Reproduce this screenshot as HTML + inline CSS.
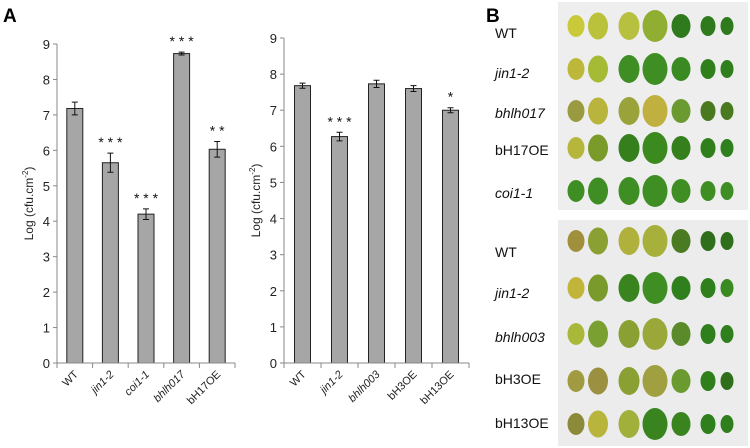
<!DOCTYPE html>
<html><head><meta charset="utf-8"><style>
body{margin:0;width:750px;height:448px;background:#fff;overflow:hidden;font-family:"Liberation Sans",sans-serif}
svg{position:absolute;left:0;top:0}
</style></head><body>
<svg id="s" width="750" height="448">
<text x="3" y="22" font-size="19" font-weight="bold">A</text>
<text x="486" y="22" font-size="19" font-weight="bold">B</text>
<rect x="558" y="2" width="190" height="208" fill="#eeeeee"/>
<rect x="558" y="220" width="190" height="226" fill="#ececec"/>
<g font-size="14" fill="#111">
<text x="495" y="38">WT</text>
<text x="495" y="78" font-style="italic">jin1-2</text>
<text x="495" y="118" font-style="italic">bhlh017</text>
<text x="495" y="155">bH17OE</text>
<text x="495" y="198" font-style="italic">coi1-1</text>
<text x="495" y="257">WT</text>
<text x="495" y="298" font-style="italic">jin1-2</text>
<text x="495" y="342" font-style="italic">bhlh003</text>
<text x="495" y="384">bH3OE</text>
<text x="495" y="428">bH13OE</text>
</g>
</svg>
<script>
const catsA=["WT","jin1-2","coi1-1","bhlh017","bH17OE"];
const valsA=[7.18,5.65,4.2,8.73,6.03];
const errA=[0.18,0.27,0.15,0.04,0.22];
const starsA=["","* * *","* * *","* * *","* *"];
const italA=[false,true,true,true,false];
const catsB=["WT","jin1-2","bhlh003","bH3OE","bH13OE"];
const valsB=[7.68,6.27,7.73,7.6,7.0];
const errB=[0.07,0.12,0.1,0.08,0.07];
const starsB=["","* * *","","","*"];
const italB=[false,true,true,false,false];
const ticks=[0,1,2,3,4,5,6,7,8,9];
const leafRows=[25,68,110,147,190,240,287,333,380,423];
const leafCols=[576,598,629,655,681,708,727];
const leafColors=[
["#c9c93a","#b9c23a","#b8c040","#8fae32","#2f7a1c","#2f7a1c","#2f7a1c"],
["#bdb83a","#a6bb35","#3f8e24","#3f8e24","#3a8a22","#2f7f1c","#2f7f1c"],
["#9a9a40","#b8b43c","#9aa33a","#c0b040","#6a9a30","#4a7a20","#4a7a20"],
["#b6b63c","#7a9a2a","#357f1d","#3a8a20","#357f1d","#2f7f1c","#2f7f1c"],
["#3f8e24","#3f8e24","#3f8e24","#3f8e24","#3f8e24","#3f8e24","#3f8e24"],
["#a0903c","#8aa032","#b0b03c","#a8b03c","#4a7a22","#2f6f1c","#2f6f1c"],
["#c0b43a","#7a9a2c","#3a8420","#3f8e24","#2f7f1c","#2f7f1c","#3a8a22"],
["#aab83a","#7aa032","#8aa032","#9aa83a","#5a8a2a","#2f7f1c","#2f7f1c"],
["#a09a40","#9a9040","#8aa032","#a0a040","#6a9a30","#2f7f1c","#2f6f1c"],
["#8a8a3a","#b8b43c","#a0b03a","#3a8420","#3a8420","#2f7f1c","#2f7f1c"]];
const leafW=[17,20,21,25,19,15,13];
const leafH=[22,27,28,32,24,20,18];
const NS="http://www.w3.org/2000/svg",s=document.getElementById('s');
function mk(t,a,p){const e=document.createElementNS(NS,t);for(const k in a)e.setAttribute(k,a[k]);(p||s).appendChild(e);return e;}
function chart(cats,vals,errs,stars,ital,x0,x1,y0,y9,nm){
  const g=mk('g',{});
  
  
  const n=cats.length,bw=(x1-x0)/n;
  const X=i=>x0+bw*(i+0.5), Y=v=>y0-(y0-y9)*v/9;
  ticks.forEach(t=>{
    const l=mk('line',{x1:x0-4,x2:x0,y1:Y(t),y2:Y(t),stroke:'#888'},g);
    
    const tx=mk('text',{x:x0-7,y:Y(t)+5,'font-size':13,'text-anchor':'end',fill:'#222'},g);tx.textContent=t;
    
  });
  const ya=mk('line',{x1:x0,x2:x0,y1:Y(0),y2:Y(9),stroke:'#888'},g);
  
  const yt=mk('text',{transform:`translate(${x0-24},${(Y(0)+Y(9))/2}) rotate(-90)`,'font-size':12,'text-anchor':'middle',fill:'#222'},g);
  yt.innerHTML='Log (cfu.cm<tspan dy="-5" font-size="8">-2</tspan><tspan dy="5">)</tspan>';
  
  vals.forEach((v,i)=>{
    const b=mk('rect',{x:X(i)-8,y:Y(v),width:16,height:Y(0)-Y(v),fill:'#a6a6a6',stroke:'#222','stroke-width':1},g);
    
    const e=errs[i],eb=mk('path',{d:`M${X(i)},${Y(v+e)}V${Y(v-e)}M${X(i)-3},${Y(v+e)}H${X(i)+3}M${X(i)-3},${Y(v-e)}H${X(i)+3}`,stroke:'#111',fill:'none'},g);
    
    if(stars[i]){const st=mk('text',{x:X(i),y:Y(v+e)-6,'font-size':14,'text-anchor':'middle',fill:'#111'},g);st.textContent=stars[i];
      }
    const lb=mk('text',{transform:`translate(${X(i)+4},${Y(0)+12}) rotate(-45)`,'font-size':11,'text-anchor':'end',fill:'#222','font-style':ital[i]?'italic':'normal'},g);lb.textContent=cats[i];
    
  });
  const xa=mk('line',{x1:x0,x2:x1,y1:Y(0),y2:Y(0),stroke:'#888'},g);
  
  for(let i=0;i<=n;i++){const t=mk('line',{x1:x0+bw*i,x2:x0+bw*i,y1:Y(0),y2:Y(0)+5,stroke:'#888'},g);
    }
}
chart(catsA,valsA,errA,starsA,italA,57,235,363,44,'chart-a1');
chart(catsB,valsB,errB,starsB,italB,284,469,363,38,'chart-a2');
leafRows.forEach((y,r)=>leafCols.forEach((x,c)=>{
  const e=mk('ellipse',{cx:x,cy:y+1,rx:leafW[c]/2,ry:leafH[c]/2,fill:leafColors[r][c]});
  
  
}));
</script>
</body></html>
